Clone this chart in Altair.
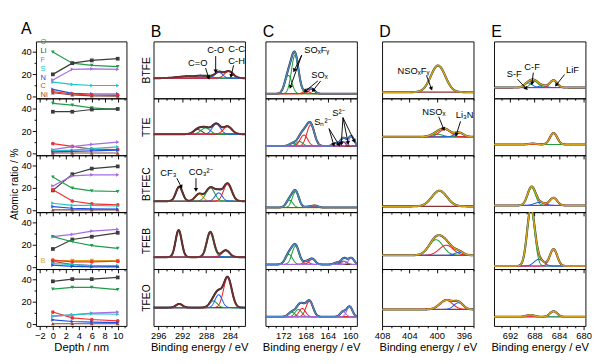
import numpy as np
import pandas as pd
import altair as alt

FONT = "Liberation Sans"
W_A, W, H = 97, 98, 61

# ---------------- Panel A: atomic ratio vs depth ----------------
depth_nm = [0, 3, 6, 10]
samples = ["BTFE", "TTE", "BTFEC", "TFEB", "TFEO"]

ratio_BTFE = {"O": [40, 30, 28, 27], "Li": [20, 30, 32.5, 34], "F": [15, 24.5, 25, 24.5],
              "S": [13, 11, 10, 10], "N": [6.5, 3, 2.4, 2.4], "C": [4.5, 2.4, 1.5, 1.2],
              "Ni": [3.5, 1.5, 0.8, 0.5]}
ratio_TTE = {"O": [45, 43.5, 41, 39.5], "Li": [37.5, 37.5, 39.5, 40], "C": [9, 6.5, 4, 3.5],
             "F": [3.5, 6.3, 8.2, 10.3], "S": [2.5, 3, 4.5, 6], "N": [1.5, 2, 2.5, 3],
             "Ni": [0.5, 0.5, 0.5, 0.5]}
ratio_BTFEC = {"Li": [18, 32.5, 37.5, 39.5], "O": [30, 20, 17.5, 17], "F": [22, 31, 32, 32],
               "C": [18.5, 8.5, 6, 5], "S": [6.5, 4.5, 4.5, 4], "N": [3.5, 2, 1.5, 1.2],
               "Ni": [0.5, 0.5, 0.5, 0.5]}
ratio_TFEB = {"F": [27.5, 29.5, 32.5, 34], "Li": [16.5, 25, 27.5, 31], "O": [27.5, 23, 19.5, 17],
              "B": [6, 6, 6, 6], "C": [6.5, 5, 5, 5.5], "Ni": [5.5, 2.5, 1.5, 1],
              "S": [3.5, 2.5, 1.5, 1.5], "N": [2, 1, 0.5, 0.5]}
ratio_TFEO = {"Li": [38.5, 40.5, 40.5, 42], "O": [31.5, 33, 33, 31], "C": [11, 5.7, 4.3, 3],
              "F": [7, 8.5, 10, 11], "S": [7.5, 8.5, 9.5, 9], "N": [4, 2.5, 2, 1.5],
              "Ni": [0.5, 0.5, 0.5, 0.5]}
ratios = [ratio_BTFE, ratio_TTE, ratio_BTFEC, ratio_TFEB, ratio_TFEO]

elem_color = {"O": "#1f9d4a", "Li": "#3c3c3c", "F": "#a56de2", "S": "#1fc4c8", "N": "#1f4fe0",
              "C": "#f03232", "Ni": "#8b4a3c", "B": "#e0a21e"}
elem_shape = {"O": "triangle-down", "Li": "square", "F": "triangle-right", "S": "triangle-right",
              "N": "triangle-right", "C": "circle", "Ni": "triangle-up", "B": "square"}

legend_letters = ["O", "Li", "F", "S", "N", "C", "Ni"]
legend_y = [48.6, 40.7, 32.8, 24.9, 17.0, 9.1, 1.2]
legend_B_y = [6.0]

A_dom = [-2.6, 11.35]
A_ydom = [-1.5, 49.5]

# ---------------- XPS spectra: fitted peak parameters (centre eV, height, FWHM eV, colour) ----------------
B_dom = [281.5, 296.8]
C_dom = [158.8, 175.2]
D_dom = [394.6, 408.0]
E_dom = [679.7, 694.6]
B_majors = [284, 288, 292, 296]
C_majors = [160, 164, 168, 172]
D_majors = [396, 400, 404, 408]
E_majors = [680, 684, 688, 692]

B_baseline = [22, 23, 12, 13, 20]
B_peaks = [
    [(291.0, 2.0, 4.0, "brown"), (289.0, 1.5, 1.5, "purple"), (287.6, 2.0, 1.6, "green"),
     (285.9, 6.5, 1.5, "blue"), (284.2, 7.5, 1.7, "red")],
    [(289.4, 5.0, 1.6, "brown"), (288.1, 6.7, 1.8, "green"), (286.3, 11.0, 1.6, "blue"),
     (284.4, 8.3, 1.7, "red")],
    [(292.5, 15.7, 1.3, "brown"), (289.2, 7.7, 1.5, "orange"), (287.3, 14.5, 1.7, "green"),
     (285.9, 9.0, 1.4, "blue"), (284.4, 19.0, 1.6, "red")],
    [(292.6, 29.4, 1.2, "brown"), (287.3, 27.4, 1.4, "green"), (285.9, 1.0, 1.4, "blue"),
     (284.7, 7.3, 1.5, "red")],
    [(292.5, 4.0, 1.3, "brown"), (286.8, 7.3, 1.5, "green"), (285.9, 14.0, 1.4, "blue"),
     (284.4, 33.0, 1.6, "red")],
]

C_baseline = [5, 10, 5, 5, 10]
C_peaks = [
    [(171.1, 20.0, 1.5, "green"), (169.9, 42.0, 1.5, "green"), (167.9, 3.0, 1.3, "red"),
     (166.9, 5.0, 1.3, "red")],
    [(170.3, 3.0, 1.4, "green"), (169.1, 5.0, 1.4, "green"), (168.3, 12.0, 1.6, "red"),
     (167.1, 23.0, 1.6, "red"), (162.6, 3.0, 1.2, "brown"), (161.4, 5.0, 1.2, "brown"),
     (161.0, 4.5, 1.2, "purple"), (159.8, 10.5, 1.2, "purple")],
    [(170.9, 8.0, 1.4, "green"), (169.8, 17.3, 1.4, "green"), (167.4, 1.0, 1.3, "red"),
     (166.3, 2.0, 1.3, "red")],
    [(171.0, 11.0, 1.5, "green"), (169.8, 20.0, 1.5, "green"), (167.9, 3.0, 1.3, "red"),
     (166.8, 6.0, 1.3, "red"), (162.4, 2.0, 1.2, "brown"), (161.2, 3.5, 1.2, "brown"),
     (161.0, 3.5, 1.2, "purple"), (159.8, 7.0, 1.2, "purple")],
    [(170.5, 5.0, 1.4, "green"), (169.3, 8.0, 1.4, "green"), (168.6, 9.0, 1.4, "red"),
     (167.3, 17.0, 1.5, "red"), (161.3, 5.5, 1.2, "purple"), (160.1, 11.0, 1.2, "purple")],
]

D_baseline = [6.7, 20, 6.3, 15, 18]
D_peaks = [
    [(399.8, 29.0, 2.5, "green")],
    [(400.0, 3.0, 2.0, "green"), (398.8, 8.0, 2.0, "red"), (396.7, 4.5, 1.5, "blue")],
    [(399.6, 17.0, 2.6, "green")],
    [(400.1, 17.0, 2.4, "green"), (398.6, 11.0, 2.4, "red"), (396.7, 3.3, 1.5, "blue")],
    [(398.6, 10.0, 2.2, "red"), (396.8, 7.3, 1.6, "blue")],
]

E_baseline = [11.7, 11.7, 7.3, 3.3, 10]
E_peaks = [
    [(689.0, 5.0, 1.5, "blue"), (688.0, 6.7, 1.5, "green"), (686.7, 2.0, 1.5, "blue"),
     (684.9, 8.0, 1.4, "red")],
    [(688.3, 1.0, 1.5, "green"), (684.9, 12.5, 1.4, "red")],
    [(688.5, 19.5, 1.5, "green"), (687.2, 3.3, 2.0, "blue"), (684.9, 8.3, 1.4, "red")],
    [(688.6, 62.0, 1.45, "green"), (687.3, 7.3, 1.8, "blue"), (684.9, 18.3, 1.4, "red")],
    [(688.7, 2.0, 1.5, "green"), (684.9, 6.0, 1.4, "red")],
]

COL = {"green": "#1e9e3c", "red": "#f02020", "blue": "#1f5fe8", "cyan": "#22c4d0",
       "purple": "#a46be0", "orange": "#e0a010", "brown": "#6a2e2e"}

columns = {
    "B": dict(dom=B_dom, majors=B_majors, base=B_baseline, peaks=B_peaks, env="#6e2f2f", bg="#22c4d0"),
    "C": dict(dom=C_dom, majors=C_majors, base=C_baseline, peaks=C_peaks, env="#4a86c8", bg="#d6a31c"),
    "D": dict(dom=D_dom, majors=D_majors, base=D_baseline, peaks=D_peaks, env="#d6a31c", bg="#8c3333"),
    "E": dict(dom=E_dom, majors=E_majors, base=E_baseline, peaks=E_peaks, env="#d6a31c", bg="#a86de0"),
}

# annotations: (column, row) -> texts (x, y, text) and arrows (x1, y1, x2, y2)
annot_text = {
    ("B", 0): [(289.4, 38, "C=O"), (286.4, 52, "C-O"), (282.9, 53, "C-C"), (282.9, 41, "C-H")],
    ("B", 2): [(294.3, 42, "CF₃"), (288.9, 43, "CO₃²⁻")],
    ("C", 0): [(166.0, 52, "SOₓFᵧ"), (165.5, 25, "SOₓ")],
    ("C", 1): [(165.0, 36, "Sₙ²⁻"), (162.1, 46, "S²⁻")],
    ("D", 0): [(403.4, 30, "NSOₓFᵧ")],
    ("D", 1): [(400.4, 47, "NSOₓ"), (395.9, 44, "Li₃N")],
    ("E", 0): [(691.3, 26, "S-F"), (688.4, 34, "C-F"), (681.8, 31, "LiF")],
}
annot_arrow = {
    ("B", 0): [(288.1, 33, 287.6, 23), (286.4, 46, 286.4, 30), (283.4, 36, 283.8, 25)],
    ("B", 2): [(292.9, 37, 292.2, 28), (289.7, 37, 289.7, 25)],
    ("C", 0): [(168.7, 47, 170.0, 31), (168.7, 47, 170.7, 13), (165.8, 19, 168.0, 8), (165.3, 19, 166.6, 9)],
    ("C", 1): [(163.8, 29, 163.0, 12), (163.8, 29, 162.1, 12), (161.3, 41, 161.6, 13),
               (161.3, 41, 160.4, 14), (161.3, 41, 159.3, 16)],
    ("D", 0): [(401.5, 25, 400.8, 11)],
    ("D", 1): [(399.7, 42, 399.0, 29), (396.5, 37, 397.1, 23)],
    ("E", 0): [(690.8, 21, 689.4, 11), (688.2, 28, 688.4, 17), (683.1, 26, 684.4, 15)],
}
SPEC_YDOM = [0, 62]


def gauss(x, c, h, w):
    return h * np.exp(-4 * np.log(2) * ((x - c) / w) ** 2)


def tick_values(lo, hi, majors, nminor):
    step = majors[1] - majors[0]
    vals = []
    m = majors[0] - 2 * step
    while m <= majors[-1] + 2 * step:
        for k in range(nminor + 1):
            v = m + k * step / (nminor + 1)
            v = int(v) if k == 0 else round(v, 4)
            if lo - 1e-6 <= v <= hi + 1e-6:
                vals.append(v)
        m += step
    return sorted(vals)


def cond_tick(test, big=4, small=2):
    return {"condition": {"test": test, "value": big}, "value": small}


def x_axes(vals, test, label_expr, title):
    bottom = alt.Axis(values=vals, labelExpr=label_expr, tickSize=cond_tick(test), title=title,
                      domain=False, grid=False, labelFlush=False, labelOverlap=False,
                      labelPadding=1, titlePadding=2, orient="bottom")
    top = alt.Axis(values=vals, labels=False, tickSize=cond_tick(test), title=None,
                   domain=False, grid=False, orient="bottom", offset=-H)
    return bottom, top


def build(layer_fns, xaxis_main, xaxis_top, yaxis, last):
    """layer_fns: list of functions f(xaxis, yaxis) -> chart"""
    inner = alt.layer(*[f(xaxis_main, yaxis) for f in layer_fns])
    if last:
        tick_layer = layer_fns[0](xaxis_top, yaxis).mark_line(opacity=0)
        return alt.layer(inner, tick_layer).resolve_axis(x="independent")
    return inner


def spectrum_panel(key, i, letter_title):
    cfg = columns[key]
    lo, hi = cfg["dom"]
    xs = np.round(np.linspace(lo, hi, 360), 3)
    base = cfg["base"][i]
    env = np.full_like(xs, base, dtype=float)
    comp_rows = []
    for j, (c, h, w, cn) in enumerate(cfg["peaks"][i]):
        g = gauss(xs, c, h, w)
        env = env + g
        comp_rows.append(pd.DataFrame({"be": xs, "y": base + g, "comp": f"p{j}", "color": COL[cn]}))
    df_comp = pd.concat(comp_rows)
    df_env = pd.DataFrame({"be": xs, "y": env})
    df_base = pd.DataFrame({"be": [lo, hi], "y": [base, base]})

    xscale = alt.Scale(domain=[lo, hi], reverse=True, nice=False, zero=False)
    yscale = alt.Scale(domain=SPEC_YDOM, nice=False, zero=False)
    vals = tick_values(lo, hi, cfg["majors"], 2)
    test = "datum.value == round(datum.value)"
    bottom, top = x_axes(vals, test, "datum.value == round(datum.value) ? datum.label : ''",
                         "Binding energy / eV")
    if key == "B":
        yaxis = alt.Axis(title=samples[i], labels=False, ticks=False, domain=False, grid=False,
                         titlePadding=2, titleFontSize=11)
    else:
        yaxis = None

    def X(f, ax):
        return alt.X(f, scale=xscale, axis=ax)

    def Y(f, ax):
        return alt.Y(f, scale=yscale, axis=ax)

    fns = [
        lambda xa, ya: alt.Chart(df_env).mark_line(color="#222222", strokeWidth=2.2, clip=True).encode(
            x=X("be:Q", xa), y=Y("y:Q", ya)),
        lambda xa, ya: alt.Chart(df_base).mark_line(color=cfg["bg"], strokeWidth=1.3, clip=True).encode(
            x=X("be:Q", xa), y=Y("y:Q", ya)),
        lambda xa, ya: alt.Chart(df_comp).mark_line(strokeWidth=1.1, clip=True).encode(
            x=X("be:Q", xa), y=Y("y:Q", ya), color=alt.Color("color:N", scale=None), detail="comp:N"),
        lambda xa, ya: alt.Chart(df_env).mark_line(color=cfg["env"], strokeWidth=1.5, clip=True).encode(
            x=X("be:Q", xa), y=Y("y:Q", ya)),
    ]
    if (key, i) in annot_text:
        tdf = pd.DataFrame(annot_text[(key, i)], columns=["x", "y", "t"])
        sx = W / (hi - lo)
        sy = H / (SPEC_YDOM[1] - SPEC_YDOM[0])
        rows = []
        for (x1, y1, x2, y2) in annot_arrow[(key, i)]:
            dx = -(x2 - x1) * sx
            dy = -(y2 - y1) * sy
            ang = (np.degrees(np.arctan2(dx, -dy)) + 360) % 360
            rows.append(dict(x1=x1, y1=y1, x2=x2, y2=y2, ang=float(ang)))
        adf = pd.DataFrame(rows)
        fns += [
            lambda xa, ya: alt.Chart(tdf).mark_text(font=FONT, fontSize=10, color="black").encode(
                x=X("x:Q", xa), y=Y("y:Q", ya), text="t:N"),
            lambda xa, ya: alt.Chart(adf).mark_rule(color="black", strokeWidth=1).encode(
                x=X("x1:Q", xa), y=Y("y1:Q", ya), x2="x2:Q", y2="y2:Q"),
            lambda xa, ya: alt.Chart(adf).mark_point(shape="triangle", filled=True, size=22,
                                                     color="black", opacity=1).encode(
                x=X("x2:Q", xa), y=Y("y2:Q", ya), angle=alt.Angle("ang:Q", scale=None)),
        ]
    main_axis = None if i == 0 else (bottom if i == 4 else top)
    ch = build(fns, main_axis, top, yaxis, i == 4)
    props = dict(width=W, height=H)
    if i == 0:
        props["title"] = alt.Title(letter_title, anchor="start", frame="group", fontSize=17,
                                   font=FONT, fontWeight="normal", offset=1, dx=-3)
    return ch.properties(**props)


def depth_panel(i):
    rows = []
    for el, vals in ratios[i].items():
        for d, v in zip(depth_nm, vals):
            rows.append(dict(depth=d, val=v, el=el, col=elem_color[el], shp=elem_shape[el]))
    df = pd.DataFrame(rows)
    xscale = alt.Scale(domain=A_dom, nice=False, zero=False)
    yscale = alt.Scale(domain=A_ydom, nice=False, zero=False)
    vals = list(range(-2, 12))
    bottom, top = x_axes(vals, "datum.value % 2 == 0", "datum.value % 2 == 0 ? datum.label : ''",
                         "Depth / nm")
    yaxis = alt.Axis(values=[0, 10, 20, 30, 40], labelExpr="datum.value % 20 == 0 ? datum.label : ''",
                     tickSize=cond_tick("datum.value % 20 == 0", 4, 2), domain=False, grid=False,
                     title="Atomic ratio / %" if i == 2 else None, labelPadding=1, titlePadding=2,
                     titleFontSize=11)

    def X(f, ax):
        return alt.X(f, scale=xscale, axis=ax)

    def Y(f, ax):
        return alt.Y(f, scale=yscale, axis=ax)

    fns = [
        lambda xa, ya: alt.Chart(df).mark_line(strokeWidth=1.3).encode(
            x=X("depth:Q", xa), y=Y("val:Q", ya), color=alt.Color("col:N", scale=None), detail="el:N"),
        lambda xa, ya: alt.Chart(df).mark_point(filled=True, size=16, opacity=1).encode(
            x=X("depth:Q", xa), y=Y("val:Q", ya), color=alt.Color("col:N", scale=None),
            shape=alt.Shape("shp:N", scale=None)),
    ]
    ldf = None
    if i == 0:
        ldf = pd.DataFrame({"x": [-1.9] * len(legend_letters), "y": legend_y, "t": legend_letters,
                            "col": [elem_color[e] for e in legend_letters]})
    elif i == 3:
        ldf = pd.DataFrame({"x": [-1.9], "y": legend_B_y, "t": ["B"], "col": [elem_color["B"]]})
    if ldf is not None:
        fns.append(lambda xa, ya: alt.Chart(ldf).mark_text(font=FONT, fontSize=8, align="left").encode(
            x=X("x:Q", xa), y=Y("y:Q", ya), text="t:N", color=alt.Color("col:N", scale=None)))
    main_axis = None if i == 0 else (bottom if i == 4 else top)
    ch = build(fns, main_axis, top, yaxis, i == 4)
    props = dict(width=W_A, height=H)
    if i == 0:
        props["title"] = alt.Title("A", anchor="start", frame="bounds", fontSize=17, font=FONT,
                                   fontWeight="normal", offset=1)
    return ch.properties(**props)


colA = alt.vconcat(*[depth_panel(i) for i in range(5)], spacing=0, bounds="flush")
cols = [colA]
for key in ["B", "C", "D", "E"]:
    cols.append(alt.vconcat(*[spectrum_panel(key, i, key) for i in range(5)], spacing=0, bounds="flush"))

chart = alt.hconcat(*cols, spacing=14, padding=0, background="white").configure_view(
    stroke="black", strokeWidth=1
).configure_axis(
    labelFont=FONT, titleFont=FONT, labelFontSize=10, titleFontSize=12, titleFontWeight="normal",
    labelColor="black", titleColor="black", tickColor="black", tickWidth=1
)

chart.save("out.html", embed_options={"renderer": "svg", "actions": False})
